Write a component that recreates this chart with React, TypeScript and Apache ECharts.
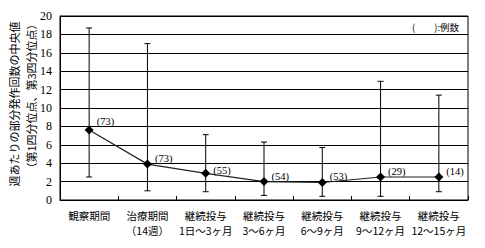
import React, { useEffect, useRef } from "react";
import * as echarts from "echarts";

const categories = [
  "観察期間",
  "治療期間\n（14週）",
  "継続投与\n1日～3ヶ月",
  "継続投与\n3～6ヶ月",
  "継続投与\n6～9ヶ月",
  "継続投与\n9～12ヶ月",
  "継続投与\n12～15ヶ月",
];
const medians = [7.6, 3.9, 2.9, 2.0, 1.9, 2.5, 2.5];
const q1 = [2.5, 1.0, 0.9, 0.5, 0.4, 0.4, 0.9];
const q3 = [18.7, 17.0, 7.1, 6.3, 5.7, 12.9, 11.4];
const counts = [73, 73, 55, 54, 53, 29, 14];
const yTicks = { min: 0, max: 20, interval: 2 };

const cjk = '"Noto Sans CJK JP", sans-serif';
const serif = '"Liberation Serif", "DejaVu Serif", serif';

export default function App() {
  const ref = useRef<HTMLDivElement>(null);
  useEffect(() => {
    document.body.style.margin = "0";
    if (!ref.current) return;
    const chart = echarts.init(ref.current, undefined, { renderer: "svg" });
    const labelOffsets = [[-2, -9], [-2, -6], [-2, -3], [-2, -5], [-2, -6], [-2, -6], [-2, -6]];
    chart.setOption({
      animation: false,
      grid: {
        left: 60,
        right: 17,
        top: 16,
        bottom: 48,
        show: true,
        borderColor: "#000",
        borderWidth: 1,
      },
      xAxis: {
        type: "category",
        data: categories,
        boundaryGap: true,
        axisLine: { lineStyle: { color: "#000" } },
        axisTick: { show: true, inside: true, length: 4, lineStyle: { color: "#000" } },
        axisLabel: {
          color: "#000",
          fontFamily: cjk,
          fontSize: 10.5,
          lineHeight: 15,
          margin: 8,
          interval: 0,
        },
      },
      yAxis: {
        type: "value",
        min: yTicks.min,
        max: yTicks.max,
        interval: yTicks.interval,
        axisLine: { show: true, lineStyle: { color: "#000" } },
        axisTick: { show: false },
        axisLabel: { color: "#000", fontFamily: serif, fontSize: 12, margin: 8 },
        splitLine: { show: true, lineStyle: { color: "#000", width: 1 } },
      },
      graphic: [
        {
          type: "text",
          x: 14,
          y: 104,
          rotation: Math.PI / 2,
          style: {
            text: "週あたりの部分発作回数の中央値",
            fontFamily: cjk,
            fontSize: 11,
            fill: "#000",
            align: "center",
            verticalAlign: "middle",
          },
        },
        {
          type: "text",
          x: 31,
          y: 96,
          rotation: Math.PI / 2,
          style: {
            text: "（第1四分位点、第3四分位点）",
            fontFamily: cjk,
            fontSize: 11,
            fill: "#000",
            align: "center",
            verticalAlign: "middle",
          },
        },
        {
          type: "text",
          x: 412,
          y: 27,
          style: {
            text: "(　　):例数",
            fontFamily: cjk,
            fontSize: 9.5,
            fill: "#000",
            align: "left",
            verticalAlign: "middle",
          },
        },
      ],
      series: [
        {
          type: "custom",
          data: categories.map((_, i) => [i, q1[i], q3[i]]),
          renderItem: (params: any, api: any) => {
            const lo = api.coord([api.value(0), api.value(1)]);
            const hi = api.coord([api.value(0), api.value(2)]);
            const w = 3;
            const style = { stroke: "#000", lineWidth: 1 };
            return {
              type: "group",
              children: [
                { type: "line", shape: { x1: lo[0], y1: lo[1], x2: hi[0], y2: hi[1] }, style },
                { type: "line", shape: { x1: lo[0] - w, y1: lo[1], x2: lo[0] + w, y2: lo[1] }, style },
                { type: "line", shape: { x1: hi[0] - w, y1: hi[1], x2: hi[0] + w, y2: hi[1] }, style },
              ],
            };
          },
          z: 2,
        },
        {
          type: "line",
          data: medians.map((v, i) => ({
            value: v,
            label: {
              show: true,
              position: "right",
              offset: labelOffsets[i],
              formatter: "(" + counts[i] + ")",
              fontFamily: serif,
              fontSize: 10.5,
              color: "#000",
            },
          })),
          symbol: "diamond",
          symbolSize: 9,
          itemStyle: { color: "#000" },
          lineStyle: { color: "#222", width: 1.2 },
          z: 3,
        },
      ],
    });
    return () => chart.dispose();
  }, []);
  return <div ref={ref} style={{ width: 485, height: 248 }} />;
}
